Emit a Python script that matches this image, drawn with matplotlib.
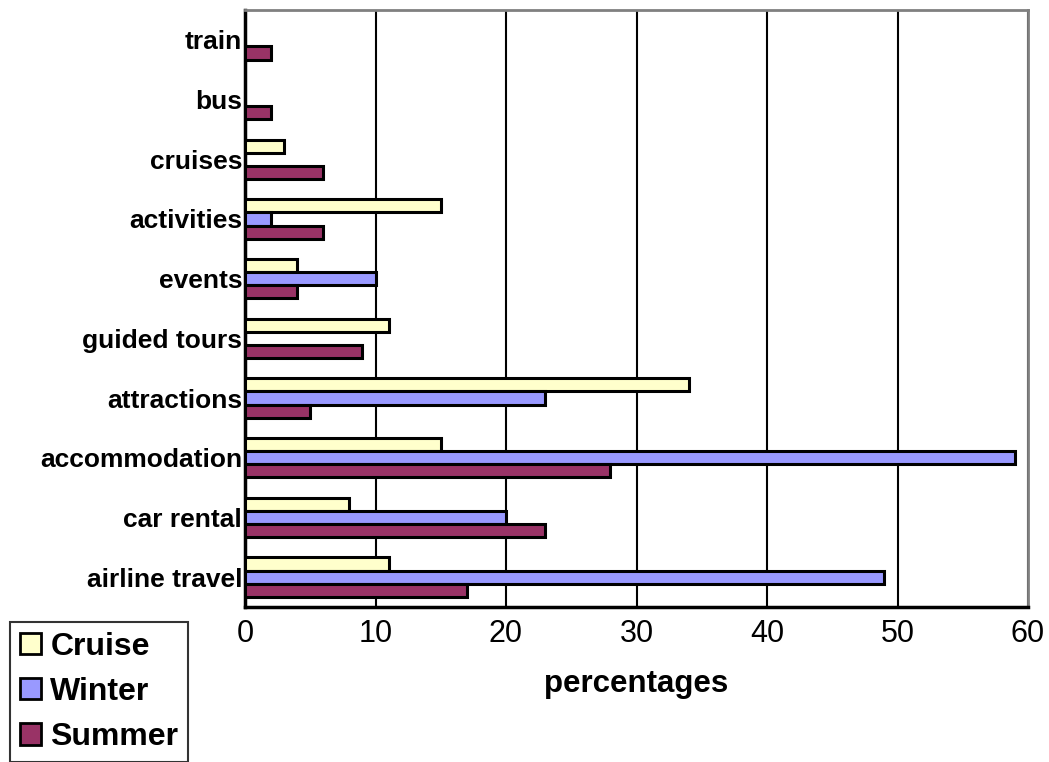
import numpy as np
import matplotlib.pyplot as plt
from matplotlib.patches import Patch

# Data (percentages)
categories = ['airline travel', 'car rental', 'accommodation', 'attractions',
              'guided tours', 'events', 'activities', 'cruises', 'bus', 'train']
cruise = [11, 8, 15, 34, 11, 4, 15, 3, 0, 0]
winter = [49, 20, 59, 23, 0, 10, 2, 0, 0, 0]
summer = [17, 23, 28, 5, 9, 4, 6, 6, 2, 2]

series_names = ['Cruise', 'Winter', 'Summer']
colors = ['#FFFFCC', '#9999FF', '#993366']

plt.rcParams['font.family'] = ['Liberation Sans', 'DejaVu Sans']

fig = plt.figure(figsize=(10.49, 7.62), dpi=100)
ax = fig.add_axes([245/1049, 1 - 607/762, (1028-245)/1049, (607-10)/762])

y = np.arange(len(categories))
h = 0.22

# cruise on top, winter at center, summer below
for vals, off, c in zip([cruise, winter, summer], [h, 0, -h], colors):
    v = np.array(vals, dtype=float)
    mask = v > 0
    ax.barh(y[mask] + off, v[mask], height=h, color=c, edgecolor='black',
            linewidth=2.2, zorder=3)

ax.set_xlim(0, 60)
ax.set_ylim(-0.5, len(categories) - 0.5)
ax.set_xticks(np.arange(0, 61, 10))
ax.set_yticks(y)
ax.set_yticklabels(categories, fontsize=19, fontweight='bold')
ax.tick_params(axis='x', labelsize=22, length=0, pad=9)
ax.tick_params(axis='y', length=0, pad=2)

ax.xaxis.grid(True, color='black', linewidth=1.5, zorder=0)
ax.set_axisbelow(True)

for side in ['top', 'right']:
    ax.spines[side].set_color('#808080')
    ax.spines[side].set_linewidth(2)
for side in ['left', 'bottom']:
    ax.spines[side].set_color('black')
    ax.spines[side].set_linewidth(2.5)

ax.set_xlabel('percentages', fontsize=22.5, fontweight='bold', labelpad=14)

handles = [Patch(facecolor=c, edgecolor='black', linewidth=2) for c in colors]
leg = fig.legend(handles, series_names, loc='upper left',
                 bbox_to_anchor=(10/1049, 1 - 622/762),
                 prop={'size': 23, 'weight': 'bold'},
                 frameon=True, fancybox=False, handlelength=0.66, handleheight=0.66,
                 handletextpad=0.3, labelspacing=0.48, borderpad=0.3,
                 borderaxespad=0)
leg.get_frame().set_edgecolor('black')
leg.get_frame().set_linewidth(1.5)

fig.savefig('out.png', dpi=100)
